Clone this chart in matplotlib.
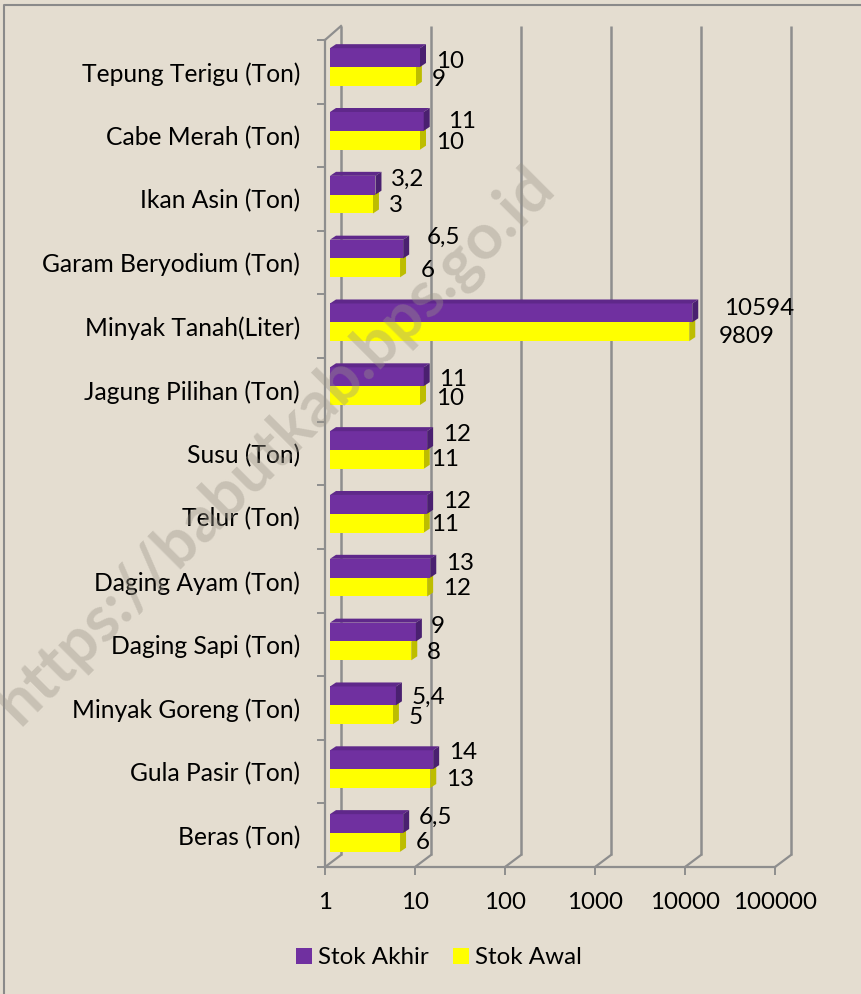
import numpy as np
import matplotlib
matplotlib.use("Agg")
import matplotlib.pyplot as plt
from matplotlib.patches import Polygon
from matplotlib.lines import Line2D
from matplotlib.transforms import Affine2D, IdentityTransform

categories = ["Tepung Terigu (Ton)", "Cabe Merah (Ton)", "Ikan Asin (Ton)", "Garam Beryodium (Ton)",
              "Minyak Tanah(Liter)", "Jagung Pilihan (Ton)", "Susu (Ton)", "Telur (Ton)",
              "Daging Ayam (Ton)", "Daging Sapi (Ton)", "Minyak Goreng (Ton)", "Gula Pasir (Ton)", "Beras (Ton)"]
stok_akhir = [10, 11, 3.2, 6.5, 10594, 11, 12, 12, 13, 9, 5.4, 14, 6.5]
stok_awal = [9, 10, 3, 6, 9809, 10, 11, 11, 12, 8, 5, 13, 6]
x_ticks = [1, 10, 100, 1000, 10000, 100000]

# manual label offsets (pixels from bar end / bar-group centre)
akhir_dx = [16, 24, 16, 24, 32, 15, 16, 16, 16, 15, 16, 16, 16]
akhir_dy = [-6, -9, -15, -21, -14, -7, -15, -12, -14, -15, -8, -17, -16]
awal_dx = [16, 16, 16, 21, 30, 16, 7, 7, 16, 16, 16, 16, 16]
awal_dy = [12, 12, 11, 12, 14, 12, 10, 11, 11, 11, 12, 10, 10]

W, H = 862, 994
BG = "#E4DDD0"
GRID = "#8E8E8E"
PURPLE, P_TOP, P_SIDE = "#7030A0", "#5F288A", "#4A2070"
YELLOW, Y_SIDE = "#FFFF00", "#BDBD00"
FONT = "Lato"
FS = 17.4
FS_CAT = 17.7

plt.rcParams["font.family"] = [FONT, "DejaVu Sans"]
fig = plt.figure(figsize=(W / 100, H / 100), dpi=100, facecolor=BG)
fig.add_artist(Line2D([4.5 / W, 4.5 / W, 1], [0, 1 - 4.5 / H, 1 - 4.5 / H], transform=fig.transFigure,
                      color="#8A8A8A", lw=1.5))

L, R, T, B = 325, 775, 40, 867
ax = fig.add_axes([L / W, 1 - B / H, (R - L) / W, (B - T) / H])
ax.patch.set_alpha(0)
ax.set_xscale("log")
ax.set_xlim(1, 100000)
centre0, step = 67, 63.83
ax.set_ylim((B - centre0) / step, (T - centre0) / step)
fig.canvas.draw()

ypos = np.arange(len(categories))
edges = np.linspace((T - centre0) / step, (B - centre0) / step, len(categories) + 1)
mids = (edges[:-1] + edges[1:]) / 2

for s in ["top", "right"]:
    ax.spines[s].set_visible(False)
for s in ["left", "bottom"]:
    ax.spines[s].set_color(GRID)
    ax.spines[s].set_linewidth(1.6)
ax.set_xticks(x_ticks)
ax.set_xticklabels([str(t) for t in x_ticks], fontsize=FS, color="black")
ax.set_xticks([], minor=True)
ax.tick_params(axis="x", length=6, width=1.4, color=GRID, pad=12)
ax.set_yticks(edges)
ax.set_yticklabels([""] * len(edges))
ax.set_yticks(mids, labels=categories, minor=True)
ax.tick_params(axis="y", which="major", length=6, width=1.4, color=GRID)
ax.tick_params(axis="y", which="minor", length=0, pad=18, labelsize=FS_CAT)

# back wall
DX, DY = 16, 12
wall = ax.transData + Affine2D().translate(DX, DY)
ax.vlines(x_ticks, edges[0] - 2 / step, edges[-1], colors=GRID, lw=1.8, transform=wall, clip_on=False, zorder=1)
for t in x_ticks:
    p = ax.transData.transform((t, edges[-1]))
    ax.plot([p[0], p[0] + DX], [p[1], p[1] + DY], color=GRID, lw=1.6,
            transform=IdentityTransform(), clip_on=False, zorder=1)
p = ax.transData.transform((1, edges[0]))
ax.plot([p[0], p[0] + DX], [p[1], p[1] + 14], color=GRID, lw=1.6,
        transform=IdentityTransform(), clip_on=False, zorder=1)

# 3-D bars: bars start at the log-axis origin 1, so width is value - 1
H_BAR = 0.295
SHIFT, DEPTH_X, DEPTH_Y = 5, 6, 4
front = ax.transData + Affine2D().translate(SHIFT, 0)
h_akhir = ax.barh(ypos - H_BAR / 2, np.array(stok_akhir) - 1, H_BAR, left=1, color=PURPLE, transform=front,
                  clip_on=False, zorder=4, label="Stok Akhir")
h_awal = ax.barh(ypos + H_BAR / 2, np.array(stok_awal) - 1, H_BAR, left=1, color=YELLOW, transform=front,
                 clip_on=False, zorder=3, label="Stok Awal")


def add_face(pts, color, z):
    ax.add_patch(Polygon(pts, closed=True, facecolor=color, edgecolor="none",
                         transform=IdentityTransform(), clip_on=False, zorder=z))


for y, a, b in zip(ypos, stok_akhir, stok_awal):
    x0, mid = front.transform((1, y))
    xa, top = front.transform((a, y - H_BAR))
    xb, bot = front.transform((b, y + H_BAR))
    add_face([(x0, top), (xa, top), (xa + DEPTH_X, top + DEPTH_Y), (x0 + DEPTH_X, top + DEPTH_Y)], P_TOP, 5)
    add_face([(xa, top), (xa + DEPTH_X, top + DEPTH_Y), (xa + DEPTH_X, mid + DEPTH_Y), (xa, mid)], P_SIDE, 5)
    add_face([(xb, mid), (xb + DEPTH_X, mid + DEPTH_Y), (xb + DEPTH_X, bot + DEPTH_Y), (xb, bot)], Y_SIDE, 2)

# value labels
fmt = lambda v: str(v).replace(".", ",")
PX = 72 / 100
for y, a, b, dxa, dya, dxb, dyb in zip(ypos, stok_akhir, stok_awal, akhir_dx, akhir_dy, awal_dx, awal_dy):
    ax.annotate(fmt(a), (a, y), xycoords="data", xytext=((SHIFT + dxa) * PX, -dya * PX),
                textcoords="offset points", ha="left", va="center", fontsize=FS, zorder=6, annotation_clip=False)
    ax.annotate(fmt(b), (b, y), xycoords="data", xytext=((SHIFT + dxb) * PX, -dyb * PX),
                textcoords="offset points", ha="left", va="center", fontsize=FS, zorder=6, annotation_clip=False)

fig.legend(handles=[h_akhir, h_awal], loc="center", bbox_to_anchor=(439 / W, 1 - 958 / H), ncol=2,
           frameon=False, fontsize=FS, handlelength=0.68, handleheight=0.68, handletextpad=0.25,
           columnspacing=1.0, borderpad=0)

fig.text(275 / W, 1 - 445 / H, "https://babutkab.bps.go.id", rotation=45, rotation_mode="anchor",
         ha="center", va="center", fontsize=46, fontweight="bold", color="#9A9488", alpha=0.38, zorder=10)

fig.savefig("out.png", dpi=100, facecolor=BG)
